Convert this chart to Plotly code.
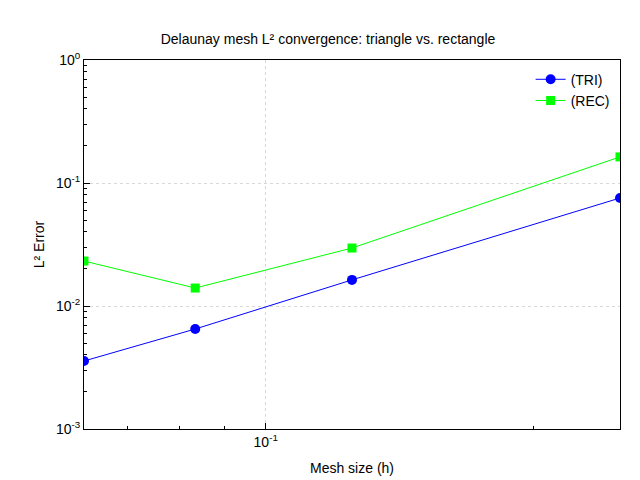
import plotly.graph_objects as go

# Mesh sizes and L2 errors
h = [1/16, 1/12, 1/8, 1/4]
err_tri = [0.00357, 0.0065, 0.0163, 0.0755]
err_rec = [0.0232, 0.0140, 0.0296, 0.163]

y_ticks = [1e-3, 1e-2, 1e-1, 1e0]
y_labels = ['10<sup>-3</sup>', '10<sup>-2</sup>', '10<sup>-1</sup>', '10<sup>0</sup>']
x_ticks = [0.1]
x_labels = ['10<sup>-1</sup>']
x_minor = [0.07, 0.08, 0.09, 0.2]
y_minor = [m * d for d in [1e-3, 1e-2, 1e-1] for m in range(2, 10)]

fig = go.Figure()

fig.add_trace(go.Scatter(
    x=h, y=err_tri, mode='lines+markers', name='(TRI)',
    line=dict(color='#0000ff', width=1),
    marker=dict(symbol='circle', size=10, color='#0000ff')
))
fig.add_trace(go.Scatter(
    x=h, y=err_rec, mode='lines+markers', name='(REC)',
    line=dict(color='#00ff00', width=1),
    marker=dict(symbol='square', size=9, color='#00ff00')
))

axis_common = dict(
    showline=True, linecolor='black', linewidth=1, mirror=True,
    ticks='inside', ticklen=6, tickcolor='black', automargin=False,
    showgrid=True, gridcolor='#d8d8d8', griddash='dot', gridwidth=1,
    zeroline=False, tickfont=dict(size=14, color='black')
)

fig.update_layout(
    title=dict(text='Delaunay mesh L² convergence: triangle vs. rectangle',
               x=0.5, y=0.945, xanchor='center', font=dict(size=14, color='black')),
    width=640, height=480,
    margin=dict(l=76, r=28, t=52, b=59),
    plot_bgcolor='white', paper_bgcolor='white',
    font=dict(family='Liberation Sans, Arial, sans-serif', color='black'),
    xaxis=dict(type='log', range=[-1.2041, -0.60206], tickvals=x_ticks, ticktext=x_labels,
               minor=dict(tickvals=x_minor, ticks='inside', ticklen=3,
                          tickcolor='black', showgrid=False),
               title=dict(text='Mesh size (h)', font=dict(size=14), standoff=14),
               **axis_common),
    yaxis=dict(type='log', range=[-3, 0], tickvals=y_ticks, ticktext=y_labels,
               minor=dict(tickvals=y_minor, ticks='inside', ticklen=3,
                          tickcolor='black', showgrid=False),
               title=dict(text='L² Error', font=dict(size=14), standoff=8),
               **axis_common),
    legend=dict(x=0.99, y=0.99, xanchor='right', yanchor='top',
                bgcolor='rgba(0,0,0,0)', font=dict(size=14)),
)

fig.write_html("out.html")
